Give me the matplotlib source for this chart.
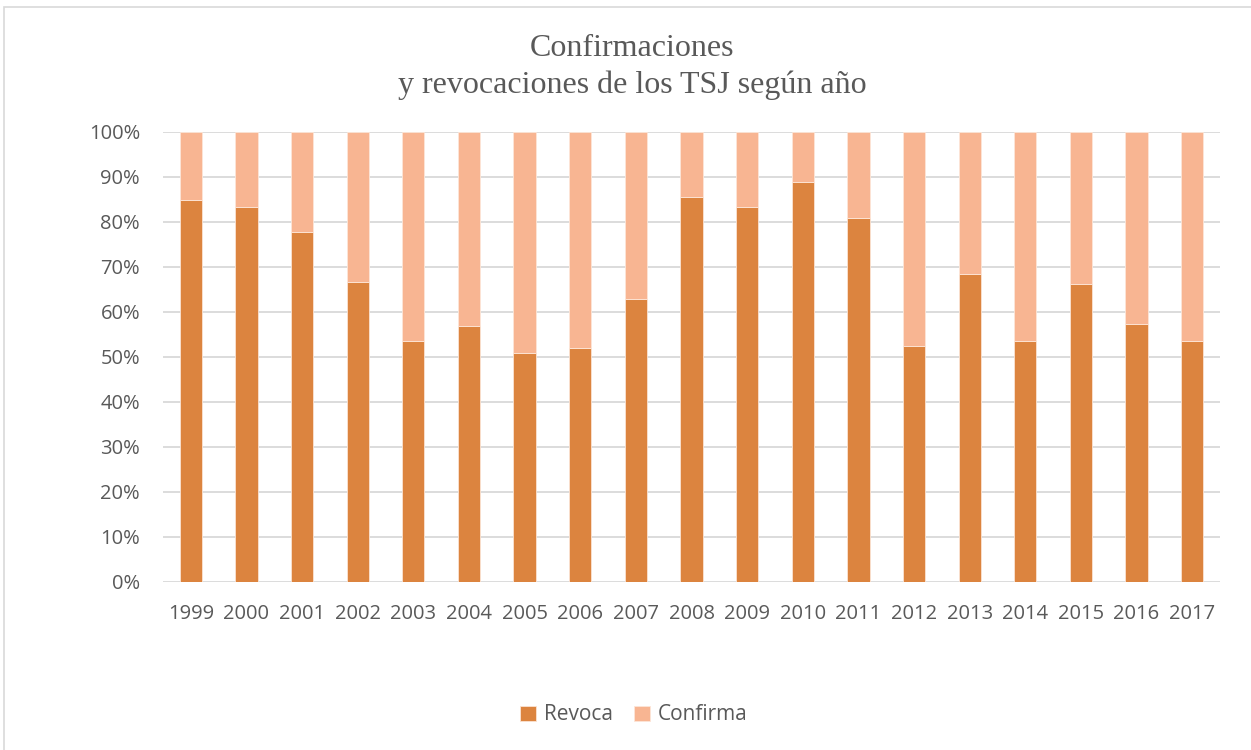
import numpy as np
import matplotlib.pyplot as plt
from matplotlib.patches import Rectangle
from matplotlib.ticker import PercentFormatter

years = [str(y) for y in range(1999, 2018)]
revoca = [84.8, 83.3, 77.7, 66.6, 53.6, 56.8, 50.9, 52.0, 62.9, 85.6,
          83.3, 88.8, 80.8, 52.4, 68.4, 53.6, 66.2, 57.3, 53.5]
confirma = [100 - v for v in revoca]

c_rev = '#DC843F'
c_conf = '#F8B592'
txt = '#595959'

fig = plt.figure(figsize=(12.51, 7.5), dpi=100)
ax = fig.add_axes([163/1251, 1 - 581.7/750, 1057/1251, 450/750])

x = np.arange(len(years))
ax.bar(x, revoca, width=0.4, color=c_rev, edgecolor='#FBE3D3', linewidth=0.6,
       label='Revoca', zorder=3)
ax.bar(x, confirma, width=0.4, bottom=revoca, color=c_conf, edgecolor='#FDE6D8',
       linewidth=0.6, label='Confirma', zorder=3)

ax.set_xlim(-0.5, len(years) - 0.5)
ax.set_ylim(0, 100)
ax.set_yticks(np.arange(0, 101, 10))
ax.yaxis.set_major_formatter(PercentFormatter(decimals=0))
ax.set_xticks(x)
ax.set_xticklabels(years)
ax.grid(axis='y', color='#D9D9D9', linewidth=1.3, zorder=0)
for s in ax.spines.values():
    s.set_visible(False)
ax.tick_params(length=0, colors=txt, labelsize=14.5)
ax.tick_params(axis='y', pad=16.5)
ax.tick_params(axis='x', pad=16)
for lab in ax.get_xticklabels() + ax.get_yticklabels():
    lab.set_fontfamily('Open Sans')

fig.text(632/1251, 1 - 67/750, 'Confirmaciones\ny revocaciones de los TSJ según año',
         ha='center', va='center', fontsize=23, color=txt,
         family='Liberation Serif', linespacing=1.3)

fig.legend(loc='center', bbox_to_anchor=(634/1251, 35/750), ncol=2, frameon=False,
           handlelength=0.75, handleheight=0.75, handletextpad=0.4, columnspacing=1.0,
           prop={'family': 'Open Sans', 'size': 15}, labelcolor=txt)

fig.patches.append(Rectangle((4/1251, -0.01), 1.1, 1 - 7/750 + 0.01,
                             transform=fig.transFigure, fill=False,
                             edgecolor='#D9D9D9', linewidth=1.2))

fig.savefig('out.png', dpi=100)
